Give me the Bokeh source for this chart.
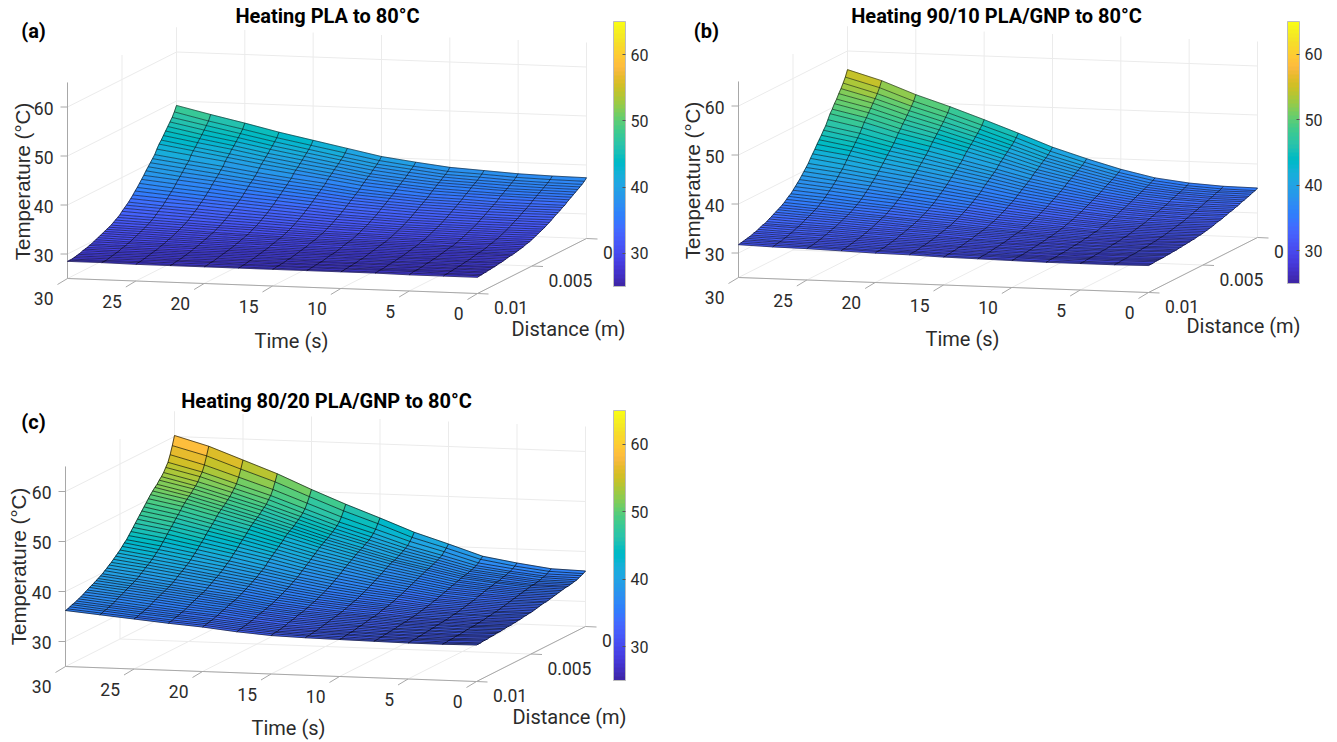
from bokeh.plotting import figure
from bokeh.models import Range1d, ColumnDataSource, LinearColorMapper, ColorBar, FixedTicker
from bokeh.core.properties import value
from bokeh.embed import file_html
from bokeh.resources import INLINE

TIME = [30, 27.5, 25, 22.5, 20, 17.5, 15, 12.5, 10, 7.5, 5, 2.5, 0]
DIST = [0.0000, 0.0002, 0.0004, 0.0006, 0.0008, 0.0010, 0.0012, 0.0014, 0.0016, 0.0018,
        0.0020, 0.0022, 0.0024, 0.0026, 0.0028, 0.0030, 0.0032, 0.0034, 0.0036, 0.0038,
        0.0040, 0.0042, 0.0044, 0.0046, 0.0048, 0.0050, 0.0052, 0.0054, 0.0056, 0.0058,
        0.0060, 0.0062, 0.0064, 0.0066, 0.0068, 0.0070, 0.0072, 0.0074, 0.0076, 0.0078,
        0.0080, 0.0082, 0.0084, 0.0086, 0.0088, 0.0090, 0.0092, 0.0094, 0.0096, 0.0098, 0.0100]
TIME_TICKS = [30, 25, 20, 15, 10, 5, 0]
DIST_TICKS = [0, 0.005, 0.01]
DIST_LABELS = ["0", "0.005", "0.01"]
TEMP_TICKS = [30, 40, 50, 60]

# Temperature, one row per distance, one column per time (30 s -> 0 s)
TEMP_PLA = [
[49.1,47.5,46.0,44.4,43.0,41.6,40.2,39.3,38.5,38.1,37.7,37.5,37.4],
[48.0,46.4,45.0,43.5,42.2,40.9,39.6,38.7,37.9,37.6,37.2,37.0,36.9],
[47.1,45.7,44.3,42.9,41.6,40.3,39.1,38.3,37.5,37.2,36.8,36.6,36.5],
[46.4,45.0,43.7,42.3,41.1,39.9,38.7,37.9,37.2,36.8,36.5,36.3,36.2],
[45.7,44.3,43.1,41.8,40.6,39.4,38.3,37.5,36.8,36.5,36.2,36.0,35.9],
[45.0,43.7,42.5,41.2,40.1,39.0,37.8,37.1,36.5,36.2,35.8,35.7,35.6],
[44.3,43.1,42.0,40.7,39.6,38.6,37.5,36.8,36.2,35.9,35.6,35.4,35.3],
[43.6,42.4,41.3,40.2,39.1,38.1,37.1,36.4,35.8,35.5,35.2,35.1,35.0],
[43.0,41.9,40.8,39.7,38.7,37.7,36.7,36.1,35.5,35.2,35.0,34.8,34.7],
[42.2,41.2,40.2,39.1,38.2,37.3,36.3,35.7,35.1,34.9,34.6,34.5,34.4],
[41.3,40.3,39.4,38.4,37.5,36.7,35.8,35.2,34.7,34.5,34.2,34.1,34.0],
[40.7,39.8,38.9,37.9,37.1,36.3,35.4,34.9,34.4,34.2,33.9,33.8,33.8],
[40.1,39.2,38.3,37.4,36.6,35.9,35.1,34.6,34.1,33.9,33.7,33.5,33.5],
[39.5,38.6,37.8,37.0,36.2,35.5,34.7,34.2,33.8,33.6,33.4,33.3,33.2],
[38.9,38.0,37.3,36.5,35.8,35.1,34.4,33.9,33.5,33.3,33.1,33.0,33.0],
[38.2,37.5,36.8,36.0,35.3,34.7,34.0,33.6,33.2,33.0,32.8,32.7,32.7],
[37.6,36.9,36.2,35.5,34.9,34.3,33.7,33.3,32.9,32.7,32.5,32.4,32.4],
[37.0,36.3,35.7,35.0,34.5,33.9,33.3,32.9,32.6,32.4,32.3,32.2,32.1],
[36.4,35.8,35.2,34.6,34.0,33.5,33.0,32.6,32.3,32.1,32.0,31.9,31.9],
[35.9,35.3,34.7,34.2,33.7,33.2,32.6,32.3,32.0,31.9,31.7,31.7,31.6],
[35.3,34.8,34.3,33.8,33.3,32.8,32.4,32.1,31.8,31.6,31.5,31.4,31.4],
[34.8,34.3,33.9,33.4,32.9,32.5,32.1,31.8,31.5,31.4,31.3,31.2,31.2],
[34.3,33.8,33.4,33.0,32.6,32.2,31.8,31.5,31.3,31.2,31.1,31.0,31.0],
[33.9,33.5,33.1,32.6,32.3,31.9,31.5,31.3,31.1,31.0,30.9,30.8,30.8],
[33.5,33.1,32.7,32.3,32.0,31.6,31.3,31.1,30.9,30.8,30.7,30.6,30.6],
[33.1,32.7,32.4,32.0,31.7,31.4,31.1,30.9,30.7,30.6,30.5,30.4,30.4],
[32.6,32.3,32.0,31.7,31.4,31.1,30.8,30.6,30.5,30.4,30.3,30.3,30.2],
[32.3,32.0,31.7,31.4,31.2,30.9,30.6,30.5,30.3,30.2,30.2,30.1,30.1],
[32.0,31.7,31.5,31.2,31.0,30.7,30.5,30.3,30.2,30.1,30.0,30.0,30.0],
[31.7,31.5,31.2,31.0,30.7,30.5,30.3,30.1,30.0,30.0,29.9,29.9,29.8],
[31.4,31.2,31.0,30.7,30.5,30.3,30.1,30.0,29.9,29.8,29.7,29.7,29.7],
[31.2,31.0,30.8,30.6,30.4,30.2,30.0,29.9,29.8,29.7,29.7,29.6,29.6],
[31.0,30.8,30.6,30.4,30.2,30.1,29.9,29.8,29.7,29.6,29.6,29.5,29.5],
[30.8,30.6,30.4,30.2,30.1,29.9,29.8,29.7,29.6,29.5,29.5,29.4,29.4],
[30.6,30.4,30.2,30.1,29.9,29.8,29.6,29.5,29.5,29.4,29.4,29.4,29.3],
[30.4,30.2,30.1,29.9,29.8,29.7,29.5,29.4,29.4,29.3,29.3,29.3,29.3],
[30.2,30.0,29.9,29.8,29.6,29.5,29.4,29.3,29.3,29.2,29.2,29.2,29.2],
[30.0,29.8,29.7,29.6,29.5,29.4,29.3,29.2,29.2,29.1,29.1,29.1,29.1],
[29.8,29.7,29.6,29.5,29.4,29.3,29.2,29.1,29.1,29.0,29.0,29.0,29.0],
[29.6,29.5,29.5,29.4,29.3,29.2,29.1,29.1,29.0,29.0,29.0,28.9,28.9],
[29.5,29.4,29.3,29.2,29.2,29.1,29.0,29.0,28.9,28.9,28.9,28.9,28.9],
[29.3,29.3,29.2,29.1,29.1,29.0,28.9,28.9,28.9,28.8,28.8,28.8,28.8],
[29.2,29.1,29.1,29.0,29.0,28.9,28.8,28.8,28.8,28.8,28.8,28.7,28.7],
[29.1,29.0,29.0,28.9,28.9,28.8,28.8,28.7,28.7,28.7,28.7,28.7,28.7],
[28.9,28.9,28.9,28.8,28.8,28.7,28.7,28.7,28.7,28.7,28.6,28.6,28.6],
[28.8,28.8,28.8,28.7,28.7,28.7,28.6,28.6,28.6,28.6,28.6,28.6,28.6],
[28.7,28.7,28.7,28.6,28.6,28.6,28.6,28.6,28.6,28.5,28.5,28.5,28.5],
[28.6,28.6,28.6,28.6,28.6,28.5,28.5,28.5,28.5,28.5,28.5,28.5,28.5],
[28.5,28.5,28.5,28.5,28.5,28.5,28.5,28.5,28.5,28.5,28.5,28.4,28.4],
[28.5,28.5,28.5,28.4,28.4,28.4,28.4,28.4,28.4,28.4,28.4,28.4,28.4],
[28.5,28.5,28.4,28.4,28.4,28.4,28.4,28.4,28.4,28.4,28.3,28.3,28.3],
]
TEMP_9010 = [
[56.2,54.2,51.6,49.4,47.0,44.5,41.9,39.8,37.9,36.4,35.6,35.2,35.1],
[54.9,53.0,50.5,48.4,46.1,43.8,41.3,39.3,37.5,36.1,35.3,34.9,34.8],
[53.9,52.0,49.7,47.7,45.5,43.2,40.8,38.9,37.2,35.8,35.1,34.7,34.7],
[53.0,51.2,49.0,47.0,44.9,42.7,40.4,38.6,36.9,35.6,34.9,34.6,34.5],
[52.2,50.5,48.3,46.4,44.4,42.3,40.1,38.3,36.7,35.4,34.7,34.4,34.3],
[51.3,49.7,47.6,45.8,43.8,41.8,39.7,38.0,36.4,35.2,34.6,34.2,34.2],
[50.6,49.0,47.0,45.2,43.3,41.4,39.3,37.7,36.2,35.0,34.4,34.1,34.0],
[49.7,48.2,46.2,44.6,42.8,40.9,38.9,37.4,35.9,34.8,34.2,33.9,33.9],
[49.0,47.5,45.6,44.0,42.3,40.5,38.6,37.1,35.7,34.6,34.1,33.8,33.7],
[48.0,46.6,44.8,43.3,41.7,40.0,38.2,36.8,35.4,34.4,33.8,33.6,33.5],
[47.0,45.7,44.0,42.6,41.0,39.4,37.7,36.4,35.1,34.2,33.6,33.4,33.4],
[46.3,45.0,43.4,42.0,40.5,39.0,37.4,36.1,34.9,34.0,33.5,33.3,33.2],
[45.5,44.3,42.8,41.5,40.0,38.6,37.0,35.8,34.7,33.8,33.3,33.1,33.1],
[44.8,43.6,42.2,40.9,39.6,38.2,36.7,35.5,34.5,33.6,33.2,33.0,33.0],
[44.1,43.0,41.6,40.4,39.1,37.8,36.4,35.2,34.2,33.4,33.0,32.8,32.8],
[43.3,42.3,41.0,39.8,38.6,37.4,36.0,35.0,34.0,33.3,32.9,32.7,32.7],
[42.6,41.6,40.4,39.3,38.1,37.0,35.7,34.7,33.8,33.1,32.7,32.5,32.5],
[41.9,40.9,39.8,38.8,37.6,36.5,35.3,34.4,33.6,32.9,32.6,32.4,32.4],
[41.1,40.2,39.2,38.2,37.2,36.1,35.0,34.1,33.3,32.7,32.4,32.2,32.3],
[40.5,39.7,38.7,37.8,36.8,35.8,34.7,33.9,33.2,32.6,32.3,32.1,32.2],
[39.9,39.1,38.2,37.3,36.4,35.5,34.5,33.7,33.0,32.4,32.1,32.0,32.0],
[39.3,38.5,37.7,36.8,36.0,35.1,34.2,33.5,32.8,32.3,32.0,31.9,31.9],
[38.7,38.0,37.2,36.4,35.6,34.8,33.9,33.2,32.6,32.1,31.9,31.8,31.8],
[38.2,37.5,36.8,36.0,35.2,34.5,33.7,33.0,32.5,32.0,31.8,31.7,31.7],
[37.7,37.1,36.3,35.7,34.9,34.2,33.4,32.9,32.3,31.9,31.7,31.6,31.6],
[37.2,36.6,35.9,35.3,34.6,34.0,33.2,32.7,32.2,31.8,31.6,31.5,31.5],
[36.7,36.2,35.5,34.9,34.3,33.7,33.0,32.5,32.0,31.6,31.5,31.4,31.4],
[36.4,35.8,35.2,34.7,34.0,33.5,32.8,32.3,31.9,31.5,31.4,31.3,31.4],
[36.0,35.5,34.9,34.4,33.8,33.3,32.7,32.2,31.8,31.5,31.3,31.2,31.3],
[35.6,35.1,34.6,34.1,33.6,33.1,32.5,32.1,31.7,31.4,31.2,31.2,31.2],
[35.3,34.8,34.3,33.8,33.3,32.9,32.3,31.9,31.6,31.3,31.2,31.1,31.2],
[35.0,34.6,34.1,33.7,33.2,32.7,32.2,31.8,31.5,31.2,31.1,31.0,31.1],
[34.8,34.3,33.9,33.5,33.0,32.6,32.1,31.8,31.4,31.2,31.0,31.0,31.1],
[34.5,34.1,33.7,33.3,32.8,32.5,32.0,31.7,31.4,31.1,31.0,30.9,31.0],
[34.3,33.9,33.5,33.1,32.7,32.3,31.9,31.6,31.3,31.0,30.9,30.9,31.0],
[34.0,33.7,33.3,32.9,32.5,32.2,31.8,31.5,31.2,31.0,30.9,30.8,30.9],
[33.8,33.4,33.1,32.7,32.4,32.1,31.7,31.4,31.1,30.9,30.8,30.8,30.9],
[33.5,33.2,32.9,32.6,32.2,31.9,31.5,31.3,31.1,30.9,30.8,30.8,30.8],
[33.3,33.0,32.8,32.4,32.1,31.8,31.5,31.2,31.0,30.8,30.7,30.7,30.8],
[33.2,32.9,32.6,32.3,32.0,31.7,31.4,31.2,31.0,30.8,30.7,30.7,30.8],
[33.0,32.7,32.5,32.1,31.8,31.6,31.3,31.1,30.9,30.7,30.7,30.6,30.7],
[32.8,32.5,32.3,32.0,31.7,31.5,31.2,31.0,30.8,30.7,30.6,30.6,30.7],
[32.6,32.4,32.2,31.9,31.6,31.4,31.1,31.0,30.8,30.6,30.6,30.6,30.7],
[32.5,32.2,32.0,31.8,31.5,31.3,31.1,30.9,30.7,30.6,30.6,30.6,30.6],
[32.3,32.1,31.9,31.7,31.4,31.3,31.0,30.8,30.7,30.6,30.5,30.5,30.6],
[32.2,32.0,31.8,31.6,31.3,31.2,30.9,30.8,30.6,30.5,30.5,30.5,30.6],
[32.1,31.8,31.7,31.5,31.2,31.1,30.9,30.7,30.6,30.5,30.5,30.5,30.6],
[32.0,31.8,31.6,31.4,31.2,31.0,30.8,30.7,30.6,30.5,30.5,30.5,30.6],
[31.9,31.7,31.5,31.3,31.1,31.0,30.8,30.7,30.6,30.5,30.4,30.4,30.5],
[31.8,31.6,31.5,31.3,31.1,31.0,30.7,30.6,30.5,30.4,30.4,30.4,30.5],
[31.7,31.5,31.4,31.2,31.0,30.9,30.7,30.6,30.5,30.4,30.4,30.4,30.5],
]
TEMP_8020 = [
[60.2,58.3,55.8,53.3,50.4,47.7,45.2,42.6,40.5,38.3,37.2,36.3,36.1],
[58.4,56.6,54.2,51.9,49.2,46.6,44.3,41.8,39.9,37.9,36.8,36.0,35.8],
[56.8,55.0,52.8,50.6,48.1,45.6,43.4,41.2,39.4,37.4,36.5,35.7,35.6],
[55.5,53.8,51.7,49.6,47.2,44.8,42.8,40.6,38.9,37.1,36.2,35.5,35.4],
[54.7,53.1,51.0,49.0,46.6,44.3,42.3,40.3,38.6,36.9,36.1,35.4,35.2],
[53.9,52.3,50.4,48.3,46.1,43.9,41.9,40.0,38.4,36.7,35.9,35.2,35.1],
[53.3,51.7,49.8,47.9,45.7,43.5,41.6,39.7,38.2,36.6,35.8,35.1,35.0],
[52.8,51.3,49.4,47.5,45.3,43.2,41.4,39.5,38.0,36.4,35.7,35.0,34.9],
[52.2,50.7,48.9,47.0,44.9,42.8,41.0,39.2,37.8,36.3,35.5,34.9,34.8],
[51.8,50.3,48.5,46.6,44.6,42.6,40.8,39.0,37.6,36.2,35.4,34.9,34.8],
[51.3,49.9,48.1,46.3,44.3,42.3,40.6,38.9,37.5,36.1,35.4,34.8,34.7],
[50.8,49.4,47.7,45.9,44.0,42.0,40.3,38.7,37.3,35.9,35.2,34.7,34.6],
[50.2,48.9,47.2,45.5,43.6,41.7,40.0,38.4,37.1,35.8,35.1,34.6,34.5],
[49.6,48.3,46.6,45.0,43.1,41.3,39.7,38.2,36.9,35.6,35.0,34.5,34.4],
[49.0,47.7,46.1,44.5,42.7,40.9,39.4,37.9,36.7,35.5,34.9,34.4,34.3],
[48.4,47.2,45.6,44.0,42.3,40.6,39.1,37.6,36.5,35.3,34.8,34.3,34.2],
[47.8,46.6,45.1,43.6,41.9,40.2,38.8,37.4,36.3,35.2,34.6,34.2,34.1],
[47.2,46.0,44.6,43.1,41.5,39.8,38.5,37.1,36.1,35.0,34.5,34.1,34.0],
[46.6,45.5,44.0,42.6,41.1,39.5,38.1,36.9,35.9,34.9,34.4,34.0,33.9],
[46.0,44.9,43.5,42.1,40.7,39.1,37.8,36.6,35.7,34.7,34.2,33.9,33.9],
[45.4,44.3,43.0,41.7,40.3,38.8,37.5,36.4,35.5,34.6,34.1,33.8,33.8],
[44.8,43.8,42.5,41.2,39.8,38.4,37.2,36.1,35.3,34.4,34.0,33.7,33.7],
[44.2,43.2,42.0,40.7,39.4,38.0,36.9,35.9,35.1,34.3,33.9,33.6,33.6],
[43.8,42.7,41.6,40.4,39.1,37.8,36.6,35.7,35.0,34.2,33.8,33.5,33.5],
[43.3,42.3,41.1,40.0,38.8,37.5,36.4,35.5,34.8,34.0,33.7,33.4,33.4],
[42.8,41.8,40.7,39.6,38.4,37.2,36.1,35.3,34.6,33.9,33.6,33.3,33.3],
[42.4,41.4,40.4,39.3,38.2,36.9,35.9,35.1,34.5,33.8,33.5,33.3,33.3],
[42.0,41.0,40.0,38.9,37.9,36.7,35.7,34.9,34.3,33.7,33.4,33.2,33.2],
[41.6,40.7,39.7,38.7,37.6,36.5,35.5,34.8,34.2,33.6,33.3,33.1,33.2],
[41.2,40.4,39.4,38.4,37.4,36.2,35.3,34.6,34.1,33.5,33.3,33.1,33.1],
[40.9,40.0,39.1,38.1,37.1,36.0,35.1,34.5,34.0,33.4,33.2,33.0,33.0],
[40.5,39.7,38.7,37.8,36.9,35.8,35.0,34.3,33.9,33.3,33.1,32.9,33.0],
[40.2,39.3,38.4,37.5,36.6,35.6,34.8,34.2,33.7,33.2,33.0,32.9,32.9],
[39.8,39.0,38.1,37.2,36.4,35.4,34.6,34.0,33.6,33.2,33.0,32.8,32.9],
[39.6,38.8,37.9,37.0,36.2,35.2,34.5,33.9,33.5,33.1,32.9,32.8,32.8],
[39.3,38.5,37.7,36.9,36.0,35.1,34.3,33.8,33.5,33.0,32.9,32.7,32.8],
[39.1,38.3,37.5,36.7,35.9,34.9,34.2,33.7,33.4,33.0,32.8,32.7,32.8],
[38.8,38.1,37.3,36.5,35.7,34.8,34.1,33.6,33.3,32.9,32.8,32.7,32.7],
[38.6,37.9,37.1,36.3,35.6,34.6,34.0,33.5,33.2,32.9,32.7,32.6,32.7],
[38.4,37.6,36.9,36.1,35.4,34.5,33.8,33.4,33.1,32.8,32.7,32.6,32.6],
[38.1,37.4,36.7,35.9,35.2,34.4,33.7,33.3,33.0,32.7,32.6,32.5,32.6],
[37.9,37.2,36.5,35.7,35.1,34.2,33.6,33.2,33.0,32.7,32.6,32.5,32.6],
[37.6,37.0,36.2,35.5,34.9,34.1,33.5,33.1,32.9,32.6,32.5,32.4,32.5],
[37.4,36.7,36.0,35.3,34.7,33.9,33.3,33.0,32.8,32.6,32.5,32.4,32.5],
[37.2,36.5,35.8,35.2,34.6,33.8,33.2,32.9,32.7,32.5,32.4,32.4,32.5],
[37.0,36.3,35.7,35.0,34.4,33.7,33.1,32.8,32.7,32.5,32.4,32.3,32.4],
[36.8,36.2,35.5,34.9,34.3,33.6,33.0,32.8,32.6,32.4,32.3,32.3,32.4],
[36.7,36.0,35.4,34.8,34.2,33.5,32.9,32.7,32.6,32.4,32.3,32.3,32.4],
[36.5,35.9,35.2,34.6,34.1,33.4,32.9,32.6,32.5,32.3,32.3,32.2,32.3],
[36.3,35.7,35.1,34.5,34.0,33.3,32.8,32.6,32.4,32.3,32.2,32.2,32.3],
[36.2,35.6,35.0,34.4,33.9,33.2,32.7,32.5,32.4,32.3,32.2,32.2,32.3],
]

PARULA = [
(0.2422,0.1504,0.6603),(0.2504,0.1650,0.7076),(0.2578,0.1818,0.7511),(0.2647,0.1978,0.7952),
(0.2706,0.2147,0.8364),(0.2751,0.2342,0.8710),(0.2783,0.2559,0.8991),(0.2803,0.2782,0.9221),
(0.2813,0.3006,0.9414),(0.2810,0.3228,0.9579),(0.2795,0.3447,0.9717),(0.2760,0.3667,0.9829),
(0.2699,0.3892,0.9906),(0.2602,0.4123,0.9952),(0.2440,0.4358,0.9988),(0.2206,0.4603,0.9973),
(0.1963,0.4847,0.9892),(0.1834,0.5074,0.9798),(0.1786,0.5289,0.9682),(0.1764,0.5499,0.9520),
(0.1687,0.5703,0.9359),(0.1540,0.5902,0.9218),(0.1460,0.6091,0.9079),(0.1380,0.6276,0.8973),
(0.1248,0.6459,0.8883),(0.1113,0.6635,0.8763),(0.0952,0.6798,0.8598),(0.0689,0.6948,0.8394),
(0.0297,0.7082,0.8163),(0.0036,0.7203,0.7917),(0.0067,0.7312,0.7660),(0.0433,0.7411,0.7394),
(0.0964,0.7500,0.7120),(0.1408,0.7584,0.6842),(0.1717,0.7670,0.6554),(0.1938,0.7758,0.6251),
(0.2161,0.7843,0.5923),(0.2470,0.7918,0.5567),(0.2906,0.7973,0.5188),(0.3406,0.8008,0.4789),
(0.3909,0.8029,0.4354),(0.4456,0.8024,0.3909),(0.5044,0.7993,0.3480),(0.5616,0.7942,0.3045),
(0.6174,0.7876,0.2612),(0.6720,0.7793,0.2227),(0.7242,0.7698,0.1910),(0.7738,0.7598,0.1646),
(0.8203,0.7498,0.1535),(0.8634,0.7406,0.1596),(0.9035,0.7330,0.1774),(0.9393,0.7288,0.2100),
(0.9728,0.7298,0.2394),(0.9956,0.7434,0.2371),(0.9970,0.7659,0.2199),(0.9952,0.7893,0.2028),
(0.9892,0.8136,0.1885),(0.9786,0.8386,0.1766),(0.9676,0.8639,0.1643),(0.9610,0.8890,0.1537),
(0.9597,0.9135,0.1423),(0.9628,0.9373,0.1265),(0.9691,0.9606,0.1064),(0.9769,0.9839,0.0805),
]
palette = ["#%02x%02x%02x" % tuple(int(round(c * 255)) for c in rgb) for rgb in PARULA]
mapper = LinearColorMapper(palette=palette, low=25, high=65)

W, H = 1337, 742
p = figure(width=W, height=H, x_range=Range1d(0, W), y_range=Range1d(H, 0),
           output_backend="svg", toolbar_location=None, x_axis_location=None, y_axis_location=None,
           min_border=0, outline_line_color=None)
p.grid.visible = False

FONT = value("Liberation Sans")
LABEL = value("Roboto")
GRID = "#ebebeb"
AXIS = "#a8a8a8"
TEXT = "#2b2b2b"

PANELS = [
    dict(z=TEMP_PLA, title="Heating PLA to 80°C", tag="(a)", ox=67, oy=278, xt=410, yt=15, xd=109, yd=55, zs=4.9,
         title_at=(327, 15), tag_at=(33, 30), time_at=(291, 340), dist_at=(568, 328), temp_at=(22, 181),
         bar=(613, 21, 12, 265), rows=0.5, cols=0.65),
    dict(z=TEMP_9010, title="Heating 90/10 PLA/GNP to 80°C", tag="(b)", ox=738, oy=277, xt=410, yt=15, xd=109, yd=55, zs=4.9,
         title_at=(996, 15), tag_at=(706, 30), time_at=(962, 338), dist_at=(1243, 325), temp_at=(692, 180),
         bar=(1287, 21, 12, 262), rows=0.52, cols=0.65),
    dict(z=TEMP_8020, title="Heating 80/20 PLA/GNP to 80°C", tag="(c)", ox=65, oy=666, xt=411, yt=15, xd=109, yd=55, zs=5.0,
         title_at=(326, 400), tag_at=(33, 421), time_at=(288, 727), dist_at=(569, 716), temp_at=(18, 566),
         bar=(613, 410, 12, 270), rows=0.62, cols=0.75),
]


def draw_panel(g):
    def proj(t, d, z):
        f = (30 - t) / 30
        b = 1 - d / 0.01
        return (g["ox"] + f * g["xt"] + b * g["xd"],
                g["oy"] + f * g["yt"] - b * g["yd"] - (z - 25) * g["zs"])

    def seg(a, b):
        pa, pb = proj(*a), proj(*b)
        return [pa[0], pb[0]], [pa[1], pb[1]]

    # walls and floor grid
    gx, gy = [], []
    for z in TEMP_TICKS:
        for s in (seg((30, 0.01, z), (30, 0, z)), seg((30, 0, z), (0, 0, z))):
            gx.append(s[0]); gy.append(s[1])
    for t in TIME_TICKS:
        for s in (seg((t, 0.01, 25), (t, 0, 25)), seg((t, 0, 25), (t, 0, 65))):
            gx.append(s[0]); gy.append(s[1])
    for d in DIST_TICKS:
        for s in (seg((30, d, 25), (0, d, 25)), seg((30, d, 25), (30, d, 65))):
            gx.append(s[0]); gy.append(s[1])
    p.multi_line(gx, gy, line_color=GRID, line_width=1)

    # axes
    ax, ay = [], []
    for s in (seg((30, 0.01, 25), (30, 0.01, 65)), seg((30, 0.01, 25), (0, 0.01, 25)), seg((0, 0.01, 25), (0, 0, 25))):
        ax.append(s[0]); ay.append(s[1])
    tl = []
    for t in TIME_TICKS:
        x, y = proj(t, 0.01, 25)
        ax.append([x, x - 10]); ay.append([y, y + 6])
        tl.append((x, y, str(t)))
    for d in DIST_TICKS:
        x, y = proj(0, d, 25)
        ax.append([x, x + 11]); ay.append([y, y + 0.5])
    for z in TEMP_TICKS:
        x, y = proj(30, 0.01, z)
        ax.append([x, x - 7]); ay.append([y, y])
    p.multi_line(ax, ay, line_color=AXIS, line_width=1)

    # surface facets, back to front
    Z = g["z"]
    fx, fy, fz = [], [], []
    for i in range(len(DIST) - 1):
        for j in range(len(TIME) - 1):
            corners = [(i, j), (i, j + 1), (i + 1, j + 1), (i + 1, j)]
            pts = [proj(TIME[c], DIST[r], Z[r][c]) for r, c in corners]
            fx.append([q[0] for q in pts])
            fy.append([q[1] for q in pts])
            fz.append(sum(Z[r][c] for r, c in corners) / 4)
    src = ColumnDataSource(dict(xs=fx, ys=fy, z=fz))
    tf = {"field": "z", "transform": mapper}
    p.patches("xs", "ys", source=src, fill_color=tf, line_color=tf, line_width=0.5)

    # mesh
    rx, ry = [], []
    for i in range(len(DIST)):
        pts = [proj(TIME[j], DIST[i], Z[i][j]) for j in range(len(TIME))]
        rx.append([q[0] for q in pts]); ry.append([q[1] for q in pts])
    p.multi_line(rx, ry, line_color="#000000", line_alpha=g["rows"], line_width=1)
    cx, cy = [], []
    for j in range(len(TIME)):
        pts = [proj(TIME[j], DIST[i], Z[i][j]) for i in range(len(DIST))]
        cx.append([q[0] for q in pts]); cy.append([q[1] for q in pts])
    p.multi_line(cx, cy, line_color="#000000", line_alpha=g["cols"], line_width=0.9)

    # tick labels
    p.text([q[0] - 14 for q in tl], [q[1] + 20 for q in tl], text=[q[2] for q in tl],
           text_font=LABEL, text_font_size="17.5px", text_color=TEXT, text_align="right", text_baseline="middle")
    dp = [proj(0, d, 25) for d in DIST_TICKS]
    p.text([q[0] + 16.5 for q in dp], [q[1] + 14 for q in dp], text=DIST_LABELS,
           text_font=LABEL, text_font_size="17.5px", text_color=TEXT, text_align="left", text_baseline="middle")
    zp = [proj(30, 0.01, z) for z in TEMP_TICKS]
    p.text([q[0] - 14 for q in zp], [q[1] + 1 for q in zp], text=[str(z) for z in TEMP_TICKS],
           text_font=LABEL, text_font_size="17.5px", text_color=TEXT, text_align="right", text_baseline="middle")

    # axis labels
    p.text([g["time_at"][0]], [g["time_at"][1]], text=["Time (s)"], text_font=LABEL, text_font_size="20px",
           text_color=TEXT, text_align="center", text_baseline="middle")
    p.text([g["dist_at"][0]], [g["dist_at"][1]], text=["Distance (m)"], text_font=LABEL, text_font_size="20px",
           text_color=TEXT, text_align="center", text_baseline="middle")
    p.text([g["temp_at"][0]], [g["temp_at"][1]], text=["Temperature (°C)"], text_font=FONT, text_font_size="20.5px",
           text_color=TEXT, text_align="center", text_baseline="middle", angle=1.5708)

    # titles
    p.text([g["title_at"][0]], [g["title_at"][1]], text=[g["title"]], text_font=LABEL, text_font_size="20px",
           text_font_style="bold", text_color="#000000", text_align="center", text_baseline="middle")
    p.text([g["tag_at"][0]], [g["tag_at"][1]], text=[g["tag"]], text_font=LABEL, text_font_size="20px",
           text_font_style="bold", text_color="#000000", text_align="center", text_baseline="middle")

    # colour bar
    bx, by, bw, bh = g["bar"]
    cb = ColorBar(color_mapper=mapper, ticker=FixedTicker(ticks=TEMP_TICKS), location=(bx, H - by - bh),
                  width=bw, height=bh, padding=0, margin=0, label_standoff=5, bar_line_color="#bdbdbd",
                  major_tick_line_color="#555555", major_tick_in=3, major_tick_out=0, minor_tick_line_color=None,
                  major_label_text_font="Roboto", major_label_text_font_size="16px",
                  major_label_text_color=TEXT, background_fill_alpha=0, border_line_color=None)
    p.add_layout(cb, "center")


for g in PANELS:
    draw_panel(g)

open("out.html", "w").write(file_html(p, INLINE))
